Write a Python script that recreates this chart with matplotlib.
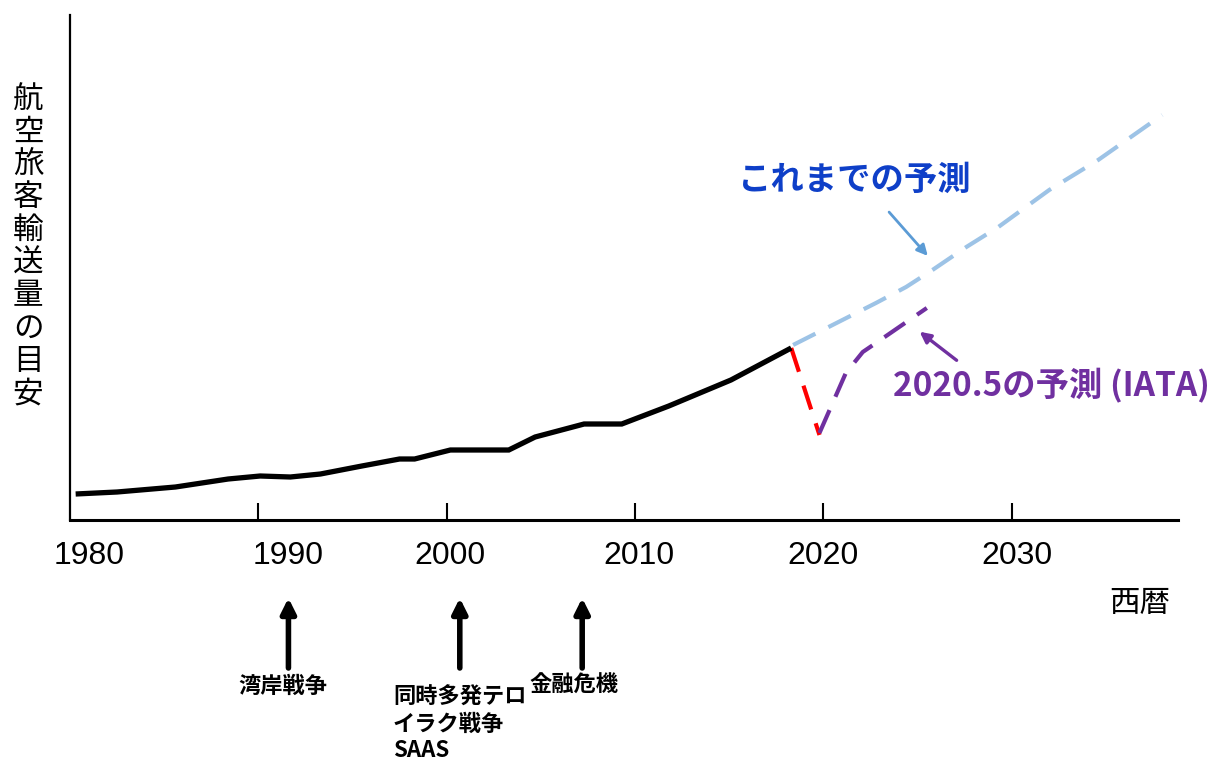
import matplotlib
matplotlib.use("Agg")
import matplotlib.pyplot as plt
from matplotlib.transforms import blended_transform_factory

plt.rcParams['font.family'] = ['Noto Sans CJK JP', 'DejaVu Sans']

# ---- data (arbitrary index units) ----
actual_years = [1980.3, 1982.5, 1985.6, 1988.4, 1990.1, 1991.7, 1993.3, 1995.5,
                1997.5, 1998.3, 2000.2, 2003.3, 2004.7, 2007.3, 2009.3, 2011.8,
                2015.1, 2018.3]
actual_vals = [26, 28, 33, 41, 44, 43, 46, 54, 61, 61, 70, 70, 83, 96, 96, 114, 140, 172]

drop_years = [2018.3, 2019.8]
drop_vals = [172, 85]

iata_years = [2019.8, 2021.2, 2022.1, 2022.8, 2025.5]
iata_vals = [87, 147, 168, 177, 212]

prev_years = [2018.4, 2022.8, 2024.4, 2025.8, 2027.6, 2029.3, 2032.0, 2034.6, 2038.0]
prev_vals = [175, 217, 233, 250, 273, 293, 330, 360, 405]

tick_years = [1990, 2000, 2010, 2020, 2030]
label_texts = ['1980', '1990', '2000', '2010', '2020', '2030']
label_pos = [1981.0, 1991.6, 2000.2, 2010.2, 2020.0, 2030.3]

event_years = [1991.6, 2000.7, 2007.2]
event_labels = ['湾岸戦争', '同時多発テロ\nイラク戦争\nSAAS', '金融危機']

ylabel = '航空旅客輸送量の目安'

# ---- figure ----
W, H = 1214, 760
fig = plt.figure(figsize=(W / 100, H / 100), dpi=100)
ax = fig.add_axes([70 / W, (H - 520) / H, (1178 - 70) / W, (520 - 15) / H])
ax.set_xlim(1980, 2038.84)
ax.set_ylim(0, 505)

for s in ['top', 'right']:
    ax.spines[s].set_visible(False)
ax.spines['bottom'].set_linewidth(2.2)
ax.spines['left'].set_linewidth(1.6)
ax.set_yticks([])
ax.set_xticks(tick_years)
ax.set_xticklabels([])
ax.tick_params(axis='x', direction='in', length=12, width=1.5, color='black')

# lines
ax.plot(actual_years, actual_vals, color='black', lw=3.8, solid_capstyle='butt',
        solid_joinstyle='miter', zorder=5)
ax.plot(prev_years, prev_vals, color='#9DC3E6', lw=3.0, dashes=(6, 3.5), zorder=3)
ax.plot(drop_years, drop_vals, color='#FF0000', lw=3.0, dashes=(6, 3.5), zorder=4)
ax.plot(iata_years, iata_vals, color='#7030A0', lw=3.0, dashes=(6, 3.5), zorder=4)

# tick labels
trans_lbl = blended_transform_factory(ax.transData, fig.transFigure)
for t, xp in zip(label_texts, label_pos):
    fig.text(xp, (H - 556) / H, t, transform=trans_lbl, ha='center', va='center',
             fontsize=23, family=['Liberation Sans', 'DejaVu Sans'])

# axis labels
fig.text(1140 / W, (H - 603) / H, '西暦', ha='center', va='center', fontsize=22)
fig.text(28 / W, (H - 247) / H, '\n'.join(ylabel), ha='center', va='center',
         fontsize=22, linespacing=1.07)

# prediction annotations
ax.text(2015.45, 340, 'これまでの予測', color='#0E3FC8', fontsize=24,
        fontweight='bold', ha='left', va='center')
ax.annotate('', xy=(2025.65, 262), xytext=(2023.4, 310),
            arrowprops=dict(arrowstyle='-|>', color='#5B9BD5', lw=2,
                            mutation_scale=16))
ax.text(2023.7, 134, '2020.5の予測 (IATA)', color='#7030A0', fontsize=24,
        fontweight='bold', ha='left', va='center')
ax.annotate('', xy=(2025.0, 190), xytext=(2027.2, 158),
            arrowprops=dict(arrowstyle='-|>', color='#7030A0', lw=2.4,
                            mutation_scale=16))

# event arrows below axis
trans_ev = blended_transform_factory(ax.transData, fig.transFigure)
for yr in event_years:
    ax.annotate('', xy=(yr, (H - 598) / H), xytext=(yr, (H - 668) / H),
                xycoords=trans_ev, textcoords=trans_ev, annotation_clip=False,
                arrowprops=dict(arrowstyle='-|>', color='black', lw=4,
                                mutation_scale=22, shrinkA=0, shrinkB=0))

fig.text(283 / W, (H - 686) / H, event_labels[0], ha='center', va='center',
         fontsize=16, fontweight='bold')
fig.text(393 / W, (H - 686) / H, event_labels[1], ha='left', va='top',
         fontsize=16, fontweight='bold', linespacing=1.2)
fig.text(529 / W, (H - 685) / H, event_labels[2], ha='left', va='center',
         fontsize=16, fontweight='bold')

fig.savefig('out.png', dpi=100)
